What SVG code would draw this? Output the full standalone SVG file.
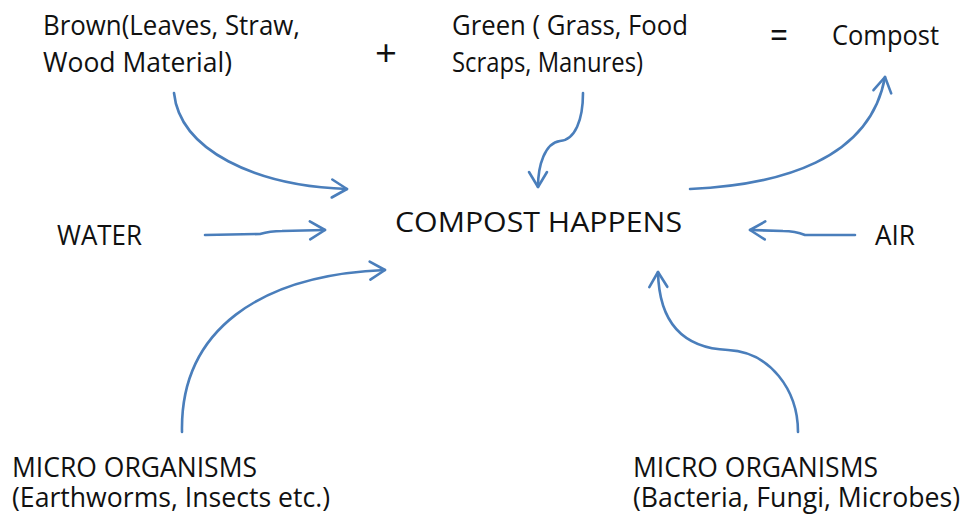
<svg xmlns="http://www.w3.org/2000/svg" width="966" height="516" viewBox="0 0 966 516">
<style>
text{font-family:"Open Sans","Liberation Sans",sans-serif;font-size:27px;fill:#111}
.sym{font-size:36px}
.c{fill:none;stroke:#4a7ebb;stroke-width:2.6;stroke-linecap:round;marker-end:url(#ah)}
</style>
<defs>
<marker id="ah" markerUnits="userSpaceOnUse" viewBox="-20 -15 30 30" markerWidth="30" markerHeight="30" refX="0" refY="0" orient="auto">
<path d="M-15,-9 L0,0 L-15,9" fill="none" stroke="#4a7ebb" stroke-width="2.6" stroke-linecap="round" stroke-linejoin="round"/>
</marker>
</defs>
<rect width="966" height="516" fill="#fff"/>
<g id="brown"><text x="43" y="35" textLength="257" lengthAdjust="spacingAndGlyphs">Brown(Leaves, Straw,</text><text x="43" y="72" textLength="189" lengthAdjust="spacingAndGlyphs">Wood Material)</text></g>
<g id="plus"><text class="sym" x="375" y="66" textLength="22" lengthAdjust="spacingAndGlyphs">+</text></g>
<g id="green"><text x="452" y="35" textLength="236" lengthAdjust="spacingAndGlyphs">Green ( Grass, Food</text><text x="452" y="72" textLength="191" lengthAdjust="spacingAndGlyphs">Scraps, Manures)</text></g>
<g id="equals"><text class="sym" x="770" y="48" textLength="18" lengthAdjust="spacingAndGlyphs">=</text></g>
<g id="compost"><text x="832" y="45" textLength="107" lengthAdjust="spacingAndGlyphs">Compost</text></g>
<g id="happens"><text x="395" y="232" textLength="287" lengthAdjust="spacingAndGlyphs">COMPOST HAPPENS</text></g>
<g id="water"><text x="57" y="245" textLength="85" lengthAdjust="spacingAndGlyphs">WATER</text></g>
<g id="air"><text x="875" y="245" textLength="40" lengthAdjust="spacingAndGlyphs">AIR</text></g>
<g id="micro-left"><text x="12" y="477" textLength="245" lengthAdjust="spacingAndGlyphs">MICRO ORGANISMS</text><text x="12" y="507" textLength="318" lengthAdjust="spacingAndGlyphs">(Earthworms, Insects etc.)</text></g>
<g id="micro-right"><text x="633" y="477" textLength="245" lengthAdjust="spacingAndGlyphs">MICRO ORGANISMS</text><text x="633" y="507" textLength="327" lengthAdjust="spacingAndGlyphs">(Bacteria, Fungi, Microbes)</text></g>
<g id="connectors">
<path class="c" d="M174,93 C180,150 255,186 347,189"/>
<path class="c" d="M583,93 C583,120 575,140 560,141 C545,143 538,165 538,187"/>
<path class="c" d="M690,189 C780,185 870,160 885,77"/>
<path class="c" d="M205,235 L260,234 Q270,231 282,231 L325,230"/>
<path class="c" d="M855,235 L805,235 Q795,231 783,231 L750,230"/>
<path class="c" d="M182,432 C180,330 260,275 385,270"/>
<path class="c" d="M798,432 C798,390 770,352 728,350 C680,348 659,320 658,272"/>
</g>
</svg>
